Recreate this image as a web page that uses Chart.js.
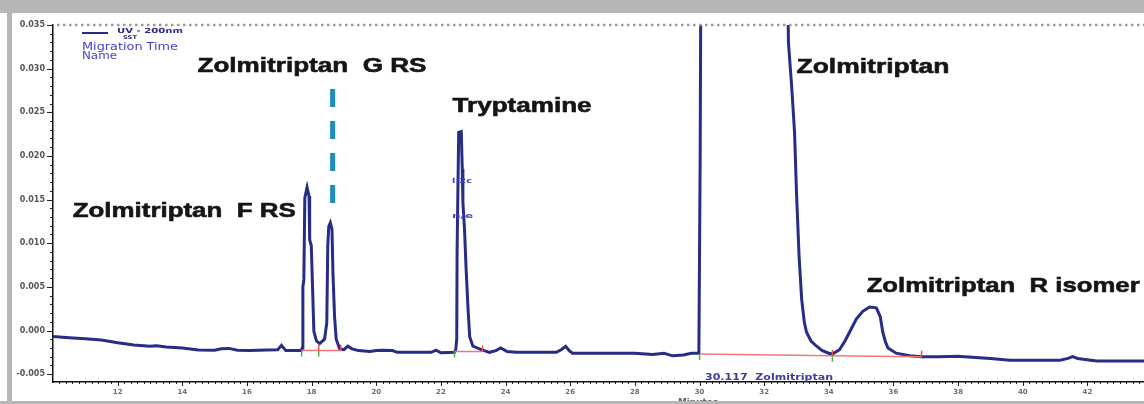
<!DOCTYPE html>
<html lang="en">
<head>
<meta charset="UTF-8">
<title>Zolmitriptan SST electropherogram</title>
<script src="https://cdn.jsdelivr.net/npm/chart.js"></script>
<style>
  html, body { margin: 0; padding: 0; background: #fff; }
  #wrap { width: 1144px; height: 404px; }
</style>
</head>
<body>
<div id="wrap"><canvas id="chart" width="1144" height="404"></canvas></div>
<script>
// migration time (min) and absorbance (AU)
const times = [
  10.00, 10.50, 11.00, 11.50, 12.00, 12.50, 13.00, 13.20, 13.50, 14.00,
  14.50, 15.00, 15.20, 15.45, 15.70, 16.10, 16.60, 16.95, 17.07, 17.20,
  17.68, 17.71, 17.73, 17.76, 17.79, 17.86, 17.92, 17.94, 17.99, 18.04,
  18.07, 18.15, 18.25, 18.40, 18.47, 18.50, 18.53, 18.58, 18.63, 18.66,
  18.71, 18.76, 18.87, 19.00, 19.12, 19.25, 19.45, 19.80, 20.00, 20.20,
  20.50, 20.65, 21.20, 21.70, 21.85, 22.00, 22.42, 22.46, 22.49, 22.50,
  22.55, 22.63, 22.66, 22.68, 22.73, 22.78, 22.84, 22.89, 22.99, 23.25,
  23.50, 23.70, 23.85, 24.05, 24.33, 25.00, 25.57, 25.72, 25.86, 25.97,
  26.07, 27.00, 28.00, 28.55, 28.90, 29.17, 29.50, 29.75, 29.98, 30.02,
  30.05, 32.70, 32.75, 32.85, 32.94, 33.00, 33.08, 33.16, 33.24, 33.31,
  33.45, 33.62, 33.80, 34.00, 34.11, 34.33, 34.50, 34.64, 34.85, 35.05,
  35.26, 35.47, 35.59, 35.67, 35.75, 35.83, 36.08, 36.50, 36.86, 37.42,
  38.00, 38.20, 39.00, 39.60, 40.50, 41.15, 41.40, 41.54, 41.70, 42.10,
  42.30, 43.75
];
const absorbance = [
  -0.0007, -0.00082, -0.00094, -0.0011, -0.0014, -0.00165, -0.0018, -0.00175, -0.0019, -0.0020,
  -0.00222, -0.00225, -0.0021, -0.00205, -0.00225, -0.0023, -0.00222, -0.0022, -0.0017, -0.0023,
  -0.0023, -0.0020, 0.0050, 0.0058, 0.0152, 0.0164, 0.0154, 0.0104, 0.0097, 0.0036,
  -0.0001, -0.0012, -0.0015, -0.0010, 0.0009, 0.0097, 0.0119, 0.01235, 0.0116, 0.0066,
  0.0016, -0.0010, -0.0021, -0.0022, -0.0018, -0.0021, -0.0023, -0.0024, -0.0023, -0.00225,
  -0.0023, -0.0025, -0.0025, -0.0025, -0.00225, -0.00255, -0.0025, -0.0022, -0.0010, 0.0089,
  0.0227, 0.0228, 0.0185, 0.0147, 0.0116, 0.0070, 0.0024, -0.0007, -0.0018, -0.0022,
  -0.0025, -0.0023, -0.0020, -0.0024, -0.0025, -0.0025, -0.0025, -0.0022, -0.0018, -0.0023,
  -0.0026, -0.0026, -0.0026, -0.00275, -0.0026, -0.0029, -0.0028, -0.0026, -0.0026, 0.0200,
  0.0500, 0.0500, 0.0330, 0.0280, 0.0227, 0.0158, 0.0085, 0.0036, 0.0010, -0.0002,
  -0.0012, -0.0018, -0.0023, -0.0026, -0.0027, -0.0022, -0.0012, -0.0002, 0.0013, 0.0022,
  0.0027, 0.0026, 0.0016, -0.0002, -0.0013, -0.0020, -0.0026, -0.0029, -0.0030, -0.0030,
  -0.00295, -0.0030, -0.0032, -0.0034, -0.0034, -0.0034, -0.0032, -0.0030, -0.0032, -0.0034,
  -0.0035, -0.0035
];

// integration baselines (null = break between peaks)
const baseX = [17.69, 18.22, 18.90, 18.90, 22.42, 23.29, 23.29, 30.00, 34.11, 36.87];
const baseY = [-0.0023, -0.0023, -0.0023, null, -0.0024, -0.0024, null, -0.0027, -0.0029, -0.0030];
const startMarks = [[17.69, -0.0023], [18.22, -0.0023], [22.42, -0.0024], [30.00, -0.0027], [34.11, -0.0029]];
const endMarks = [[18.22, -0.0023], [18.90, -0.0023], [23.29, -0.0024], [34.11, -0.0029], [36.87, -0.0030]];

// dashed marker for G RS
const markerX = [18.65, 18.65];
const markerY = [0.02767, 0.01438];

const xTickValues = [12, 14, 16, 18, 20, 22, 24, 26, 28, 30, 32, 34, 36, 38, 40, 42];
const yTickValues = [-0.005, 0.000, 0.005, 0.010, 0.015, 0.020, 0.025, 0.030, 0.035];

// peak names: [text, time, absorbance at text baseline, width px]
const peakLabels = [
  ['Zolmitriptan  F RS', 10.61, 0.0130, 223],
  ['Zolmitriptan  G RS', 14.47, 0.02957, 229],
  ['Tryptamine', 22.36, 0.02499, 139],
  ['Zolmitriptan', 33.00, 0.02946, 153],
  ['Zolmitriptan  R isomer', 35.17, 0.00436, 273]
];

const traceColor = '#272c85';
const frameColor = '#b7b7b7';

function fitText(c, text, x, y, width, font, color, stroke) {
  c.save();
  c.font = font;
  c.fillStyle = color;
  c.textAlign = 'left';
  c.textBaseline = 'alphabetic';
  const w = c.measureText(text).width;
  c.translate(x, y);
  c.scale(width / w, 1);
  c.fillText(text, 0, 0);
  if (stroke) {
    c.strokeStyle = color;
    c.lineWidth = stroke;
    c.strokeText(text, 0, 0);
  }
  c.restore();
}

const decor = {
  id: 'decor',
  beforeDraw(chart) {
    const c = chart.ctx;
    c.save();
    c.fillStyle = '#fff';
    c.fillRect(0, 0, chart.width, chart.height);
    c.fillStyle = frameColor;
    c.fillRect(0, 0, chart.width, 13);
    c.fillRect(7, 0, 5, chart.height);
    c.restore();
  },
  afterDatasetsDraw(chart) {
    const c = chart.ctx;
    const x = chart.scales.x, y = chart.scales.y;
    const area = chart.chartArea;
    c.save();
    // dotted top line
    c.strokeStyle = '#9a9a9a';
    c.lineWidth = 2.5;
    c.setLineDash([2.5, 3.5]);
    c.beginPath();
    c.moveTo(area.left + 4, y.getPixelForValue(0.035));
    c.lineTo(area.right, y.getPixelForValue(0.035));
    c.stroke();
    c.setLineDash([]);
    // integration marks
    c.lineWidth = 1.5;
    c.strokeStyle = '#4cb34c';
    startMarks.forEach(([t, v]) => {
      const px = x.getPixelForValue(t), py = y.getPixelForValue(v);
      c.beginPath(); c.moveTo(px, py); c.lineTo(px, py + 6); c.stroke();
    });
    c.strokeStyle = '#ee4b4b';
    endMarks.forEach(([t, v]) => {
      const px = x.getPixelForValue(t), py = y.getPixelForValue(v);
      c.beginPath(); c.moveTo(px, py - 6); c.lineTo(px, py); c.stroke();
    });
    c.restore();
  },
  afterDraw(chart) {
    const c = chart.ctx;
    const x = chart.scales.x, y = chart.scales.y;
    const area = chart.chartArea;
    c.save();
    c.strokeStyle = '#222';
    c.lineWidth = 1;
    // y tick marks
    for (let v = -0.005; v <= 0.0351; v += 0.001) {
      const py = Math.round(y.getPixelForValue(v)) + 0.5;
      const major = Math.abs(Math.round(v * 1000) % 5) === 0;
      c.beginPath(); c.moveTo(area.left - (major ? 6 : 3), py); c.lineTo(area.left, py); c.stroke();
    }
    // x tick marks
    for (let t = 10.2; t <= 43.75; t += 0.2) {
      const px = Math.round(x.getPixelForValue(t)) + 0.5;
      const r = Math.round(t * 10);
      const major = r % 20 === 0;
      c.beginPath(); c.moveTo(px, area.bottom); c.lineTo(px, area.bottom + (major ? 4 : 2)); c.stroke();
    }
    c.restore();

    // peak names
    peakLabels.forEach(([text, t, v, w]) => {
      fitText(c, text, x.getPixelForValue(t), y.getPixelForValue(v), w, 'bold 21px "Liberation Sans", Arial, sans-serif', '#151515', 0.6);
    });

    // legend block
    c.save();
    c.strokeStyle = traceColor;
    c.lineWidth = 2;
    c.beginPath(); c.moveTo(82, 33); c.lineTo(108, 33); c.stroke();
    c.restore();
    fitText(c, 'UV - 200nm', 117, 33, 66, 'bold 7px "DejaVu Sans", sans-serif', '#2a2a80');
    fitText(c, 'SST', 123, 39, 14, 'bold 5px "DejaVu Sans", sans-serif', '#2a2a80');
    fitText(c, 'Migration Time', 82, 50, 96, '10px "DejaVu Sans", sans-serif', '#4343c4');
    fitText(c, 'Name', 82, 59, 35, '10px "DejaVu Sans", sans-serif', '#4343c4');

    // small peak annotations
    fitText(c, 'l:2c', 452, 183, 20, 'bold 7px "DejaVu Sans", sans-serif', '#4343c4');
    fitText(c, 'n/e', 452, 218, 21, 'bold 7px "DejaVu Sans", sans-serif', '#4343c4');
    fitText(c, '30.117  Zolmitriptan', 705, 380, 128, 'bold 8px "DejaVu Sans", sans-serif', '#3d3d9e');

    // axis title, mostly hidden by the frame
    fitText(c, 'Minutes', 678, 405, 40, 'bold 9px "DejaVu Sans", sans-serif', '#666');

    c.save();
    c.fillStyle = frameColor;
    c.fillRect(0, 401, chart.width, 3);
    c.restore();
  }
};

const ctx = document.getElementById('chart').getContext('2d');
new Chart(ctx, {
  type: 'line',
  data: {
    datasets: [
      {
        label: 'integration',
        data: baseX.map((t, i) => ({ x: t, y: baseY[i] })),
        borderColor: '#f27878',
        borderWidth: 1.5,
        pointRadius: 0,
        spanGaps: false,
        order: 0
      },
      {
        label: 'UV - 200nm',
        data: times.map((t, i) => ({ x: t, y: absorbance[i] })),
        borderColor: traceColor,
        borderWidth: 3,
        pointRadius: 0,
        tension: 0,
        order: 1
      },
      {
        label: 'G RS marker',
        data: markerX.map((t, i) => ({ x: t, y: markerY[i] })),
        borderColor: '#1b8fc2',
        borderWidth: 5,
        borderDash: [18, 14],
        pointRadius: 0,
        order: 2
      }
    ]
  },
  options: {
    responsive: false,
    devicePixelRatio: 1,
    animation: false,
    layout: { padding: { top: 25, left: 0, right: 0, bottom: 0 } },
    plugins: {
      legend: { display: false },
      tooltip: { enabled: false }
    },
    scales: {
      x: {
        type: 'linear',
        min: 10,
        max: 43.75,
        border: { display: true, color: '#111', width: 1.5 },
        grid: { display: false, drawTicks: false },
        ticks: {
          autoSkip: false,
          maxRotation: 0,
          padding: 6,
          color: '#6e6e6e',
          font: { family: 'DejaVu Sans', size: 7, weight: 'bold' },
          callback: v => String(v)
        },
        afterBuildTicks: s => { s.ticks = xTickValues.map(v => ({ value: v })); },
        afterFit: s => { s.height = 22; }
      },
      y: {
        type: 'linear',
        min: -0.0059,
        max: 0.035,
        border: { display: true, color: '#111', width: 1.5 },
        grid: { display: false, drawTicks: false },
        ticks: {
          padding: 8,
          color: '#555',
          font: { family: 'DejaVu Sans', size: 8, weight: 'bold' },
          callback: v => v.toFixed(3)
        },
        afterBuildTicks: s => { s.ticks = yTickValues.map(v => ({ value: v })); },
        afterFit: s => { s.width = 53; }
      }
    }
  },
  plugins: [decor]
});
</script>
</body>
</html>
